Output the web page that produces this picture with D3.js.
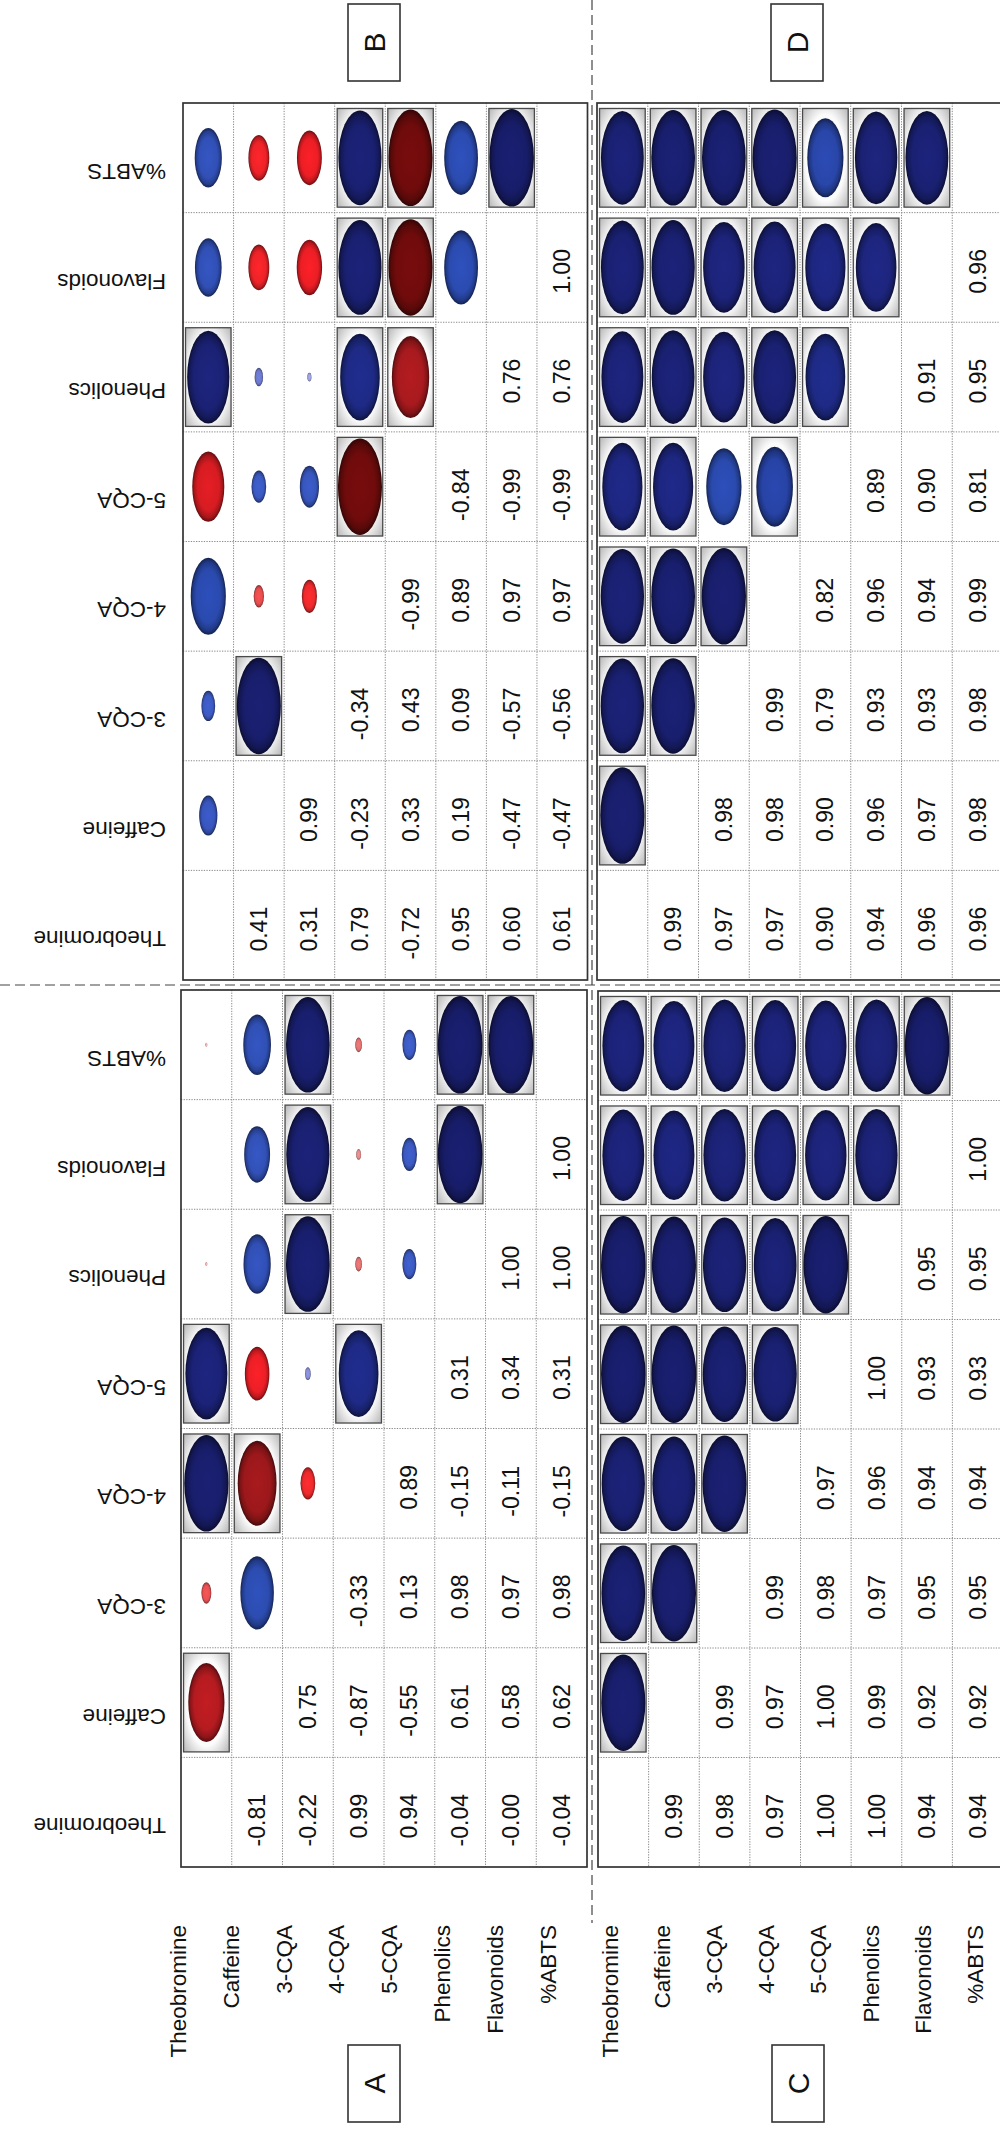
<!DOCTYPE html>
<html>
<head>
<meta charset="utf-8">
<script src="https://cdn.jsdelivr.net/npm/d3@7"></script>
<style>
  body { margin: 0; background: #fff; }
  svg { display: block; }
  text { font-family: "Liberation Sans", Arial, Helvetica, sans-serif; fill: #111; }
</style>
</head>
<body>
<svg id="chart" width="1000" height="2134"></svg>
<script>
// Variables of the correlation matrices
const variables = ["Theobromine", "Caffeine", "3-CQA", "4-CQA", "5-CQA", "Phenolics", "Flavonoids", "%ABTS"];

// Lower-triangle Pearson coefficients, row i holds r(i, j) for j < i
const corrA = [
  [],
  [-0.81],
  [-0.22, 0.75],
  [0.99, -0.87, -0.33],
  [0.94, -0.55, 0.13, 0.89],
  [-0.04, 0.61, 0.98, -0.15, 0.31],
  [-0.00, 0.58, 0.97, -0.11, 0.34, 1.00],
  [-0.04, 0.62, 0.98, -0.15, 0.31, 1.00, 1.00]
];
const corrB = [
  [],
  [0.41],
  [0.31, 0.99],
  [0.79, -0.23, -0.34],
  [-0.72, 0.33, 0.43, -0.99],
  [0.95, 0.19, 0.09, 0.89, -0.84],
  [0.60, -0.47, -0.57, 0.97, -0.99, 0.76],
  [0.61, -0.47, -0.56, 0.97, -0.99, 0.76, 1.00]
];
const corrC = [
  [],
  [0.99],
  [0.98, 0.99],
  [0.97, 0.97, 0.99],
  [1.00, 1.00, 0.98, 0.97],
  [1.00, 0.99, 0.97, 0.96, 1.00],
  [0.94, 0.92, 0.95, 0.94, 0.93, 0.95],
  [0.94, 0.92, 0.95, 0.94, 0.93, 0.95, 1.00]
];
const corrD = [
  [],
  [0.99],
  [0.97, 0.98],
  [0.97, 0.98, 0.99],
  [0.90, 0.90, 0.79, 0.82],
  [0.94, 0.96, 0.93, 0.96, 0.89],
  [0.96, 0.97, 0.93, 0.94, 0.90, 0.91],
  [0.96, 0.98, 0.98, 0.99, 0.81, 0.95, 0.96]
];
const panelLetters = ["A", "B", "C", "D"];

// |r| at or above this value gets a framed cell
const frameThreshold = 0.8;

// Panel placement on the page (figure is laid out rotated a quarter turn)
const panels = [
  { letter: panelLetters[0], data: corrA, x0: 181, x1: 587, y0: 990, y1: 1867, colLabels: true,  rowLabels: [178, 548], letterBox: [348, 2045] },
  { letter: panelLetters[1], data: corrB, x0: 183, x1: 587.5, y0: 103, y1: 980, colLabels: true,  rowLabels: null,       letterBox: [348, 4] },
  { letter: panelLetters[2], data: corrC, x0: 598, x1: 1003, y0: 991, y1: 1867, colLabels: false, rowLabels: [610, 975], letterBox: [772, 2045] },
  { letter: panelLetters[3], data: corrD, x0: 597, x1: 1003, y0: 103, y1: 980, colLabels: false, rowLabels: null,       letterBox: [771, 4] }
];

const posColor = d3.scaleLinear()
  .domain([0, 0.15, 0.3, 0.8, 0.9, 1])
  .range(["#c4c8ee", "#7c84d2", "#3c5ac2", "#2a4aae", "#1d2680", "#181d6a"])
  .clamp(true);
const negColor = d3.scaleLinear()
  .domain([0, 0.15, 0.3, 0.6, 0.75, 0.85, 1])
  .range(["#f2c4c4", "#e27272", "#ee2c2e", "#ec1c24", "#d11c22", "#a31a1e", "#6c0a0b"])
  .clamp(true);
const isNeg = r => r < 0 || Object.is(r, -0);
const colorOf = r => isNeg(r) ? negColor(Math.abs(r)) : posColor(Math.abs(r));

const fmt = r => (isNeg(r) ? "-" : "") + Math.abs(r).toFixed(2);
const valueAt = (m, i, j) => (i > j ? m[i][j] : m[j][i]);

const svg = d3.select("#chart");
const defs = svg.append("defs");

// Shaded frame background for significant cells
const frameGrad = defs.append("radialGradient")
  .attr("id", "frameShade").attr("cx", 0.5).attr("cy", 0.5).attr("r", 0.71);
frameGrad.append("stop").attr("offset", 0).attr("stop-color", "#ffffff");
frameGrad.append("stop").attr("offset", 0.62).attr("stop-color", "#fbfbfb");
frameGrad.append("stop").attr("offset", 1).attr("stop-color", "#b4b4b4");

// Separators between the four panels
svg.append("line")
  .attr("x1", 592).attr("x2", 592).attr("y1", 0).attr("y2", 1923)
  .attr("stroke", "#444").attr("stroke-width", 1.2).attr("stroke-dasharray", "10,5");
svg.append("line")
  .attr("x1", 0).attr("x2", 1000).attr("y1", 985).attr("y2", 985)
  .attr("stroke", "#444").attr("stroke-width", 1.2).attr("stroke-dasharray", "10,5");

panels.forEach(p => {
  const g = svg.append("g").attr("class", "panel-" + p.letter);

  // Rows of the matrix run left to right, columns run bottom to top
  const x = d3.scaleBand().domain(variables).range([p.x0, p.x1]);
  const y = d3.scaleBand().domain(variables.slice().reverse()).range([p.y0, p.y1]);
  const bw = x.bandwidth(), bh = y.bandwidth();

  const cells = [];
  variables.forEach((vi, i) => variables.forEach((vj, j) => {
    if (i !== j) cells.push({ i, j, vi, vj, r: valueAt(p.data, i, j) });
  }));

  // Dotted cell grid
  const grid = g.append("g").attr("stroke", "#8a8a8a").attr("stroke-width", 1).attr("stroke-dasharray", "1.3,1.3");
  grid.selectAll("line.v").data(variables.slice(1)).join("line")
    .attr("x1", d => x(d)).attr("x2", d => x(d)).attr("y1", p.y0).attr("y2", p.y1);
  grid.selectAll("line.h").data(variables.slice(0, -1)).join("line")
    .attr("y1", d => y(d)).attr("y2", d => y(d)).attr("x1", p.x0).attr("x2", p.x1);

  // Coefficients in the lower triangle
  g.selectAll("text.coef").data(cells.filter(c => c.i > c.j)).join("text")
    .attr("class", "coef")
    .attr("transform", c => `translate(${x(c.vi) + bw / 2},${y(c.vj) + bh / 2 + (isNeg(c.r) ? 8 : 4)}) rotate(-90)`)
    .attr("text-anchor", "middle").attr("dy", "0.35em")
    .style("font-size", "23px")
    .text(c => fmt(c.r));

  // Ellipses in the upper triangle
  const upper = cells.filter(c => c.i < c.j);
  upper.forEach(c => {
    const col = colorOf(c.r);
    const id = `sh-${p.letter}-${c.i}-${c.j}`;
    const gr = defs.append("radialGradient").attr("id", id).attr("cx", 0.5).attr("cy", 0.5).attr("r", 0.5);
    gr.append("stop").attr("offset", 0).attr("stop-color", d3.color(col).brighter(0.2));
    gr.append("stop").attr("offset", 0.68).attr("stop-color", col);
    gr.append("stop").attr("offset", 0.88).attr("stop-color", d3.color(col).darker(0.7));
    gr.append("stop").attr("offset", 1).attr("stop-color", d3.color(col).darker(2.2));
    c.fillId = id;
  });

  const ug = g.selectAll("g.cell").data(upper).join("g").attr("class", "cell")
    .attr("transform", c => `translate(${x(c.vi) + bw / 2},${y(c.vj) + bh / 2})`);
  ug.filter(c => Math.abs(c.r) >= frameThreshold).append("rect")
    .attr("x", -bw * 0.45).attr("y", -bh * 0.45)
    .attr("width", bw * 0.9).attr("height", bh * 0.9)
    .attr("fill", "url(#frameShade)").attr("stroke", "#4a4a4a").attr("stroke-width", 1.3);
  ug.append("ellipse")
    .attr("rx", c => Math.abs(c.r) * bw * 0.44)
    .attr("ry", c => Math.abs(c.r) * bh * 0.445)
    .attr("fill", c => `url(#${c.fillId})`);

  // Panel frame
  g.append("rect")
    .attr("x", p.x0).attr("y", p.y0).attr("width", p.x1 - p.x0).attr("height", p.y1 - p.y0)
    .attr("fill", "none").attr("stroke", "#333").attr("stroke-width", 1.7);

  // Column names (matrix columns), drawn upside down on the left
  if (p.colLabels) {
    g.selectAll("text.collab").data(variables).join("text")
      .attr("class", "collab")
      .attr("transform", d => `translate(166,${y(d) + bh / 2 + 14}) rotate(180)`)
      .attr("text-anchor", "start").attr("dy", "0.35em")
      .style("font-size", "22.5px")
      .text(d => d);
  }

  // Row names below the bottom panels
  if (p.rowLabels) {
    const lx = d3.scalePoint().domain(variables).range(p.rowLabels);
    g.selectAll("text.rowlab").data(variables).join("text")
      .attr("class", "rowlab")
      .attr("transform", d => `translate(${lx(d)},1925) rotate(-90)`)
      .attr("text-anchor", "end").attr("dy", "0.35em")
      .style("font-size", "22.5px")
      .text(d => d);
  }

  // Panel letter
  const [bx, by] = p.letterBox;
  g.append("rect").attr("x", bx).attr("y", by).attr("width", 52).attr("height", 77)
    .attr("fill", "#fff").attr("stroke", "#333").attr("stroke-width", 1.6);
  g.append("text")
    .attr("transform", `translate(${bx + 26},${by + 38.5}) rotate(-90)`)
    .attr("text-anchor", "middle").attr("dy", "0.35em")
    .style("font-size", "30px")
    .text(p.letter);
});
</script>
</body>
</html>
